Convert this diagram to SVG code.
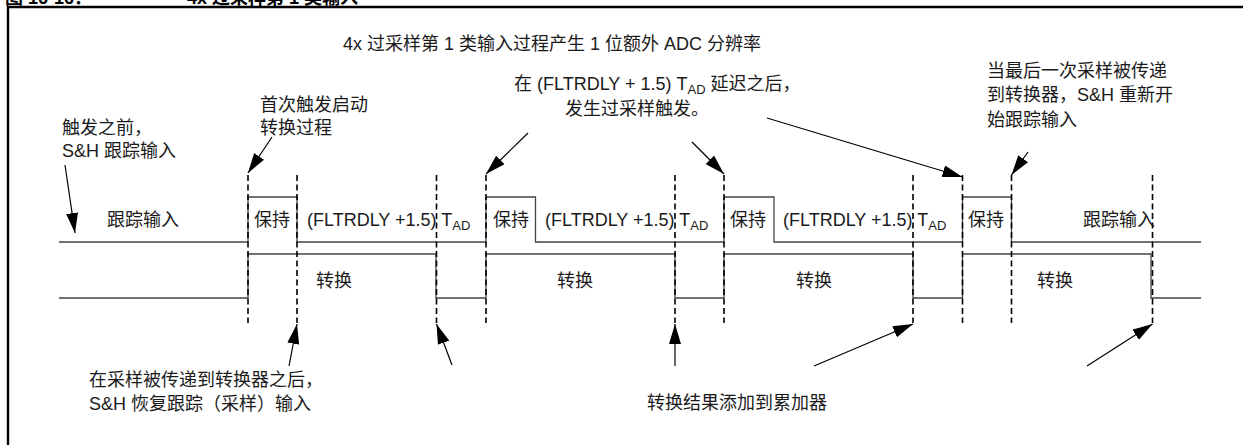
<svg xmlns="http://www.w3.org/2000/svg" width="1243" height="445" viewBox="0 0 1243 445">
<style>
.t{font-family:"Liberation Sans","Noto Sans CJK SC",sans-serif;font-size:18px;fill:#1a1a1a}
.title{font-weight:bold;fill:#000}
.sub{font-size:13px}
.wave{fill:none;stroke:#444;stroke-width:1.3}
.dash{stroke:#000;stroke-width:1.6;stroke-dasharray:6 3.5}
.arr{stroke:#000;stroke-width:1.2;fill:none;marker-end:url(#ah)}
.frame{fill:none;stroke:#000;stroke-width:2.4}
</style>
<defs>
<marker id="ah" markerUnits="userSpaceOnUse" markerWidth="20" markerHeight="12" refX="20" refY="6" orient="auto" viewBox="0 0 20 12"><path d="M0,0 L20,6 L0,12 z" fill="#000"/></marker>
</defs>
<rect x="0" y="0" width="1243" height="445" fill="#fff"/>
<g id="frame"><path class="frame" d="M8,445 V7 H1243"/></g>
<g id="title">
<text class="t title" x="5" y="4">图 16-16：</text>
<text class="t title" x="187" y="4">4x 过采样第 1 类输入</text>
</g>
<g id="waveforms">
<path id="sh-signal" class="wave" d="M59,242 H248 V197 H297 V242 H486 V197 H535.5 V242 H724 V197 H774 V242 H962.5 V197 H1011.5 V242 H1201"/>
<path id="conv-signal" class="wave" d="M59,298 H248 V254 H436 V298 H486 V254 H675 V298 H724 V254 H913 V298 H962.5 V254 H1151 V298 H1201"/>
</g>
<g id="markers">
<line class="dash" x1="248" y1="175" x2="248" y2="323"/>
<line class="dash" x1="297" y1="175" x2="297" y2="323"/>
<line class="dash" x1="436.5" y1="175" x2="436.5" y2="323"/>
<line class="dash" x1="486" y1="175" x2="486" y2="323"/>
<line class="dash" x1="675" y1="175" x2="675" y2="323"/>
<line class="dash" x1="724" y1="175" x2="724" y2="323"/>
<line class="dash" x1="913" y1="175" x2="913" y2="323"/>
<line class="dash" x1="962.5" y1="175" x2="962.5" y2="323"/>
<line class="dash" x1="1011.5" y1="175" x2="1011.5" y2="323"/>
<line class="dash" x1="1152.5" y1="175" x2="1152.5" y2="323"/>
</g>
<g id="wave-labels">
<text class="t" x="107" y="226">跟踪输入</text>
<text class="t" x="254" y="226">保持</text>
<text class="t" x="493" y="226">保持</text>
<text class="t" x="730" y="226">保持</text>
<text class="t" x="968" y="226">保持</text>
<text class="t" x="307" y="226">(FLTRDLY +1.5) T<tspan class="sub" dy="4">AD</tspan></text>
<text class="t" x="545" y="226">(FLTRDLY +1.5) T<tspan class="sub" dy="4">AD</tspan></text>
<text class="t" x="783" y="226">(FLTRDLY +1.5) T<tspan class="sub" dy="4">AD</tspan></text>
<text class="t" x="1083" y="226">跟踪输入</text>
<text class="t" x="316" y="287">转换</text>
<text class="t" x="557" y="287">转换</text>
<text class="t" x="796" y="287">转换</text>
<text class="t" x="1037" y="287">转换</text>
</g>
<g id="label-main"><text class="t" x="343" y="50">4x 过采样第 1 类输入过程产生 1 位额外 ADC 分辨率</text></g>
<g id="label-delay">
<text class="t" x="514" y="90">在 (FLTRDLY + 1.5) T<tspan class="sub" dy="4">AD</tspan><tspan dy="-4"> 延迟之后，</tspan></text>
<text class="t" x="565" y="115">发生过采样触发。</text>
</g>
<g id="label-before">
<text class="t" x="62" y="134">触发之前，</text>
<text class="t" x="62" y="157">S&amp;H 跟踪输入</text>
</g>
<g id="label-first">
<text class="t" x="260" y="111">首次触发启动</text>
<text class="t" x="260" y="134">转换过程</text>
</g>
<g id="label-last">
<text class="t" x="987" y="77">当最后一次采样被传递</text>
<text class="t" x="987" y="101">到转换器，S&amp;H 重新开</text>
<text class="t" x="987" y="126">始跟踪输入</text>
</g>
<g id="label-resume">
<text class="t" x="89" y="386">在采样被传递到转换器之后，</text>
<text class="t" x="89" y="410">S&amp;H 恢复跟踪（采样）输入</text>
</g>
<g id="label-accum"><text class="t" x="647" y="409">转换结果添加到累加器</text></g>
<g id="connectors">
<line class="arr" x1="65" y1="165" x2="75" y2="233"/>
<line class="arr" x1="272" y1="137" x2="248" y2="173"/>
<line class="arr" x1="528" y1="133" x2="486" y2="174"/>
<line class="arr" x1="692" y1="142" x2="724" y2="174"/>
<line class="arr" x1="767" y1="118" x2="962.5" y2="177"/>
<line class="arr" x1="1028" y1="152" x2="1011.5" y2="175"/>
<line class="arr" x1="289" y1="366" x2="297" y2="324"/>
<line class="arr" x1="452" y1="365" x2="436.5" y2="324"/>
<line class="arr" x1="675" y1="366" x2="675" y2="324"/>
<line class="arr" x1="814" y1="366" x2="913" y2="324"/>
<line class="arr" x1="1087" y1="366" x2="1152.5" y2="324"/>
</g>
</svg>
